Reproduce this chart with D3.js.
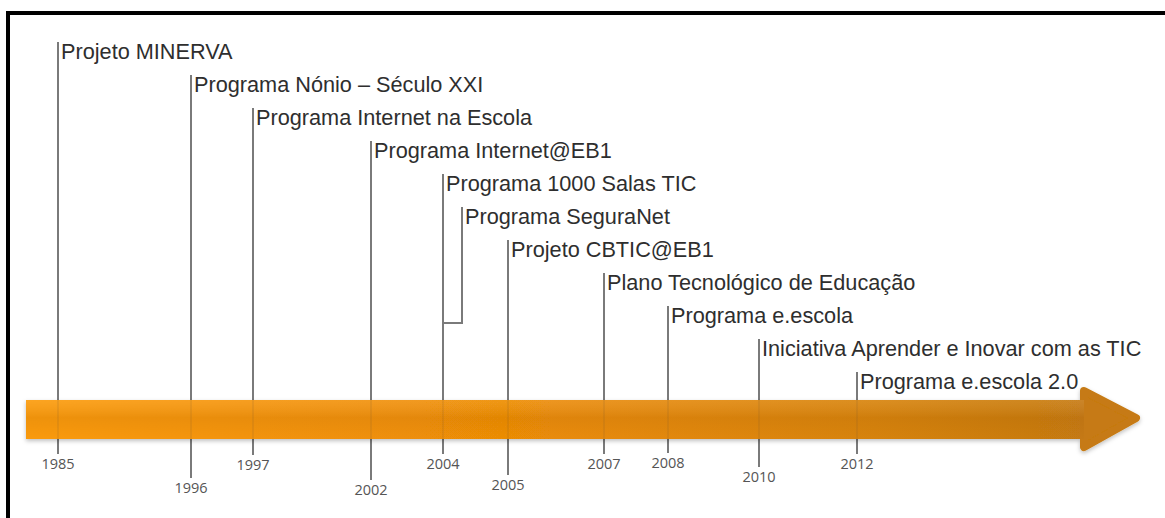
<!DOCTYPE html>
<html>
<head>
<meta charset="utf-8">
<script src="https://cdn.jsdelivr.net/npm/d3@7"></script>
<style>
  body { margin: 0; background: #fff; }
  svg { display: block; }
</style>
</head>
<body>
<div class="chart"></div>
<script>
// timeline data
var years = ["1985", "1996", "1997", "2002", "2004", "2005", "2007", "2008", "2010", "2012"];
var events = [
  "Projeto MINERVA",
  "Programa Nónio – Século XXI",
  "Programa Internet na Escola",
  "Programa Internet@EB1",
  "Programa 1000 Salas TIC",
  "Programa SeguraNet",
  "Projeto CBTIC@EB1",
  "Plano Tecnológico de Educação",
  "Programa e.escola",
  "Iniciativa Aprender e Inovar com as TIC",
  "Programa e.escola 2.0"
];
var eventYears = ["1985", "1996", "1997", "2002", "2004", "2004", "2005", "2007", "2008", "2010", "2012"];

var width = 1165, height = 518;

var svg = d3.select(".chart").append("svg")
  .attr("width", width)
  .attr("height", height);

// years are not spaced evenly on the original, so a piecewise scale
var x = d3.scaleLinear()
  .domain(years.map(Number))
  .range([58, 191, 253, 371, 443, 508, 604, 668, 759, 857]);

var row = d3.scaleLinear().domain([0, events.length - 1]).range([42, 372]);

// how far each year tick hangs below the arrow
var tickEnd = d3.scaleOrdinal()
  .domain(years)
  .range([454, 478, 455, 480, 454, 475, 454, 453, 467, 454]);

var defs = svg.append("defs");
var grad = defs.append("linearGradient").attr("id", "arrowGrad")
  .attr("x1", "0%").attr("x2", "100%").attr("y1", "0%").attr("y2", "0%");
grad.append("stop").attr("offset", "0%").attr("stop-color", "#fc9c0c");
grad.append("stop").attr("offset", "45%").attr("stop-color", "#ee8e06");
grad.append("stop").attr("offset", "80%").attr("stop-color", "#d8840e");
grad.append("stop").attr("offset", "100%").attr("stop-color", "#c67a12");

var band = defs.append("linearGradient").attr("id", "bandGrad")
  .attr("x1", "0%").attr("x2", "0%").attr("y1", "0%").attr("y2", "100%");
band.append("stop").attr("offset", "0%").attr("stop-color", "#fff").attr("stop-opacity", 0.08);
band.append("stop").attr("offset", "45%").attr("stop-color", "#8a4a00").attr("stop-opacity", 0.12);
band.append("stop").attr("offset", "100%").attr("stop-color", "#8a4a00").attr("stop-opacity", 0.02);

var shadow = defs.append("filter").attr("id", "shadow")
  .attr("x", "-5%").attr("y", "-30%").attr("width", "110%").attr("height", "160%");
shadow.append("feDropShadow").attr("dx", 0).attr("dy", 2).attr("stdDeviation", 2)
  .attr("flood-color", "#000").attr("flood-opacity", 0.25);

// frame
svg.append("rect").attr("x", 6).attr("y", 11).attr("width", width - 6).attr("height", 4).attr("fill", "#000");
svg.append("rect").attr("x", 6).attr("y", 11).attr("width", 4).attr("height", height - 11).attr("fill", "#000");

var lines = svg.append("g").attr("class", "lines")
  .attr("stroke", "#7a7a7a")
  .attr("stroke-width", 2)
  .attr("fill", "none");

var segura = events.indexOf("Programa SeguraNet");

lines.selectAll("path")
  .data(events)
  .enter()
  .append("path")
  .attr("d", function(d, i) {
    var yr = eventYears[i];
    if (i == segura) {
      // bracket joined to the 2004 line
      var sx = x(+yr) + 19;
      return "M" + sx + "," + row(i) + "V" + (row(i) + 116) + "H" + x(+yr);
    }
    return "M" + x(+yr) + "," + row(i) + "V" + tickEnd(yr);
  });

// arrow
var bodyTop = 400, bodyBot = 439, headX = 1084, tipX = 1136;
var arrow = svg.append("g").attr("filter", "url(#shadow)");
arrow.append("path")
  .attr("d", "M26," + bodyTop + "H" + (headX + 4) + "V" + bodyBot + "H26Z")
  .attr("fill", "url(#arrowGrad)");
arrow.append("path")
  .attr("d", "M" + headX + ",391L" + tipX + ",418L" + headX + ",447Z")
  .attr("fill", "#c67a12")
  .attr("stroke", "#c67a12")
  .attr("stroke-width", 8)
  .attr("stroke-linejoin", "round");
svg.append("rect")
  .attr("x", 26).attr("y", bodyTop).attr("width", headX - 26).attr("height", bodyBot - bodyTop)
  .attr("fill", "url(#bandGrad)");

// lines faintly visible through the arrow
svg.append("g").selectAll("line")
  .data(years)
  .enter()
  .append("line")
  .attr("x1", function(d) { return x(+d); })
  .attr("x2", function(d) { return x(+d); })
  .attr("y1", bodyTop)
  .attr("y2", bodyBot)
  .attr("stroke", "#6a5030")
  .attr("stroke-width", 1.5)
  .attr("opacity", 0.15);

// event labels
svg.append("g").selectAll("text")
  .data(events)
  .enter()
  .append("text")
  .attr("x", function(d, i) { return (i == segura ? x(+eventYears[i]) + 19 : x(+eventYears[i])) + 3; })
  .attr("y", function(d, i) { return row(i) + 16.5; })
  .attr("font-family", "Liberation Sans, Arial, sans-serif")
  .attr("font-size", "21.7px")
  .attr("fill", "#2e2e2e")
  .text(function(d) { return d; });

// year labels
svg.append("g").selectAll("text")
  .data(years)
  .enter()
  .append("text")
  .attr("x", function(d) { return x(+d); })
  .attr("y", function(d) { return tickEnd(d) + 15; })
  .attr("text-anchor", "middle")
  .attr("font-family", "Open Sans, sans-serif")
  .attr("font-size", "14.5px")
  .attr("fill", "#555")
  .text(function(d) { return d; });
</script>
</body>
</html>
